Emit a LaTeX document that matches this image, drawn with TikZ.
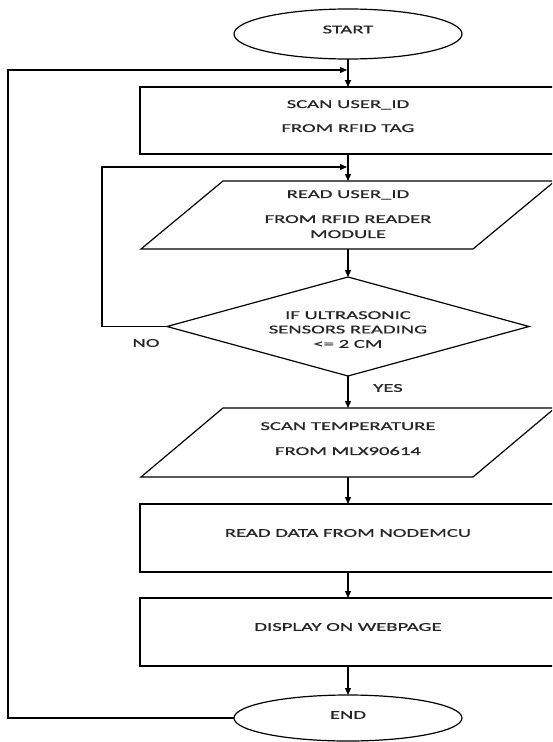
\documentclass[tikz,border=0pt]{standalone}
\usepackage{fontspec}
\newfontfamily\flowfam{Carlito}[FakeStretch=1.72,FakeBold=0.8]
\newcommand\flowsz{\fontsize{12pt}{14.4pt}\flowfam}
\usetikzlibrary{shapes.geometric,arrows.meta}
\begin{document}
\begin{tikzpicture}[x=1pt,y=-1pt,
  line width=1.2pt,
  every node/.style={inner sep=0pt, outer sep=0pt},
  shp/.style={draw, line width=1.2pt},
  box/.style={shp, rectangle, minimum width=416pt},
  io/.style={rectangle, minimum width=332pt},
  term/.style={shp, ellipse, minimum width=228pt},
  lbl/.style={font=\flowsz, align=center, text=black!85},
  arr/.style={-{Triangle[length=7pt,width=6pt]}},
  slant/.style={line width=1.2pt, line join=miter}
]
\path[use as bounding box] (0,0) rectangle (552,742);
\clip (0,0) rectangle (552,742);

% shapes
\node[term, minimum height=50pt] (start) at (348,34) {};
\node[box, minimum height=67pt] (r1) at (348,120.5) {};
\node[io, minimum height=68pt] (p1) at (348,215) {};
\node[shp, diamond, minimum width=362pt, minimum height=99pt] (d) at (348,326.5) {};
\node[io, minimum height=69pt] (p2) at (348,442.5) {};
\node[box, minimum height=68pt] (r3) at (348,538) {};
\node[box, minimum height=68pt] (r4) at (348,632) {};
\node[term, minimum height=46pt] (stop) at (348,718) {};

% parallelogram outlines
\foreach \p in {p1,p2}{
  \draw[slant] ([xshift=-41pt]\p.south west) -- ([xshift=41pt]\p.north west)
    -- ([xshift=41pt]\p.north east) -- ([xshift=-41pt]\p.south east) -- cycle;
}

% texts
\node[lbl] (tstart) at (348,29.5) {START};
\node[lbl, anchor=north] (tr1) at (348,100.2) {SCAN USER\_ID\\[9.6pt]FROM RFID TAG};
\node[lbl, anchor=north] (tp1) at (348,190.2) {READ USER\_ID\\[10.6pt]FROM RFID READER\\[0.6pt]MODULE};
\node[lbl, anchor=north] (td) at (348,311.2) {IF ULTRASONIC\\SENSORS READING\\<= 2 CM};
\node[lbl, anchor=north] (tp2) at (348,422.2) {SCAN TEMPERATURE\\[10.6pt]FROM MLX90614};
\node[lbl] (tr3) at (348,533) {READ DATA FROM NODEMCU};
\node[lbl] (tr4) at (348,627) {DISPLAY ON WEBPAGE};
\node[lbl] (tend) at (348,715) {END};
\node[lbl] (tno) at (146,343) {NO};
\node[lbl] (tyes) at (388,388) {YES};

% connectors
\coordinate (j1) at (347,70);
\coordinate (j2) at (347,167);
\draw[arr] (start) -- (r1);
\draw[arr] (r1) -- (p1);
\draw[arr] (p1) -- (d);
\draw[arr] (d) -- (p2);
\draw[arr] (p2) -- (r3);
\draw[arr] (r3) -- (r4);
\draw[arr] (r4) -- (stop);
\draw[arr] (d.west) -- ++(-65,0) |- (j2);
\draw[arr] (stop.west) -- ++(-226,0) |- (j1);
\end{tikzpicture}
\end{document}
